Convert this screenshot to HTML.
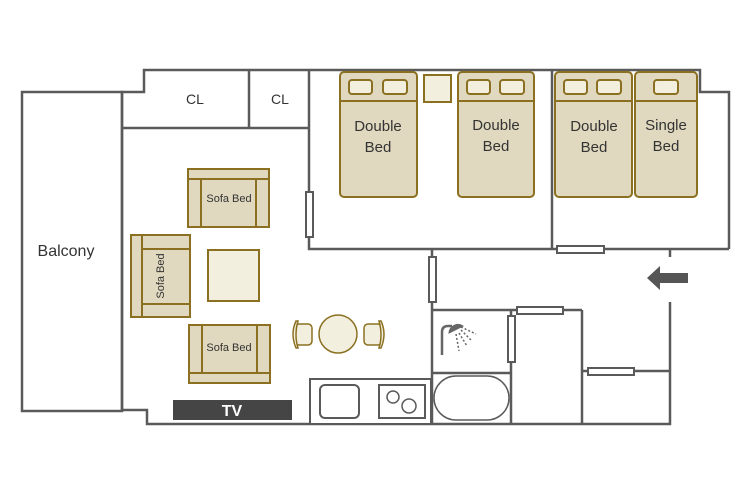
<!DOCTYPE html>
<html><head><meta charset="utf-8"><style>
html,body{margin:0;padding:0;background:#fff;}
svg{display:block;}
text{font-family:"Liberation Sans","DejaVu Sans",sans-serif;fill:#333;}
</style></head><body>
<svg width="750" height="500" viewBox="0 0 750 500" xmlns="http://www.w3.org/2000/svg">
<rect width="750" height="500" fill="#fff"/>
<g fill="none" stroke="#5a5a5a" stroke-width="2.5">
<!-- balcony -->
<rect x="22" y="92" width="100" height="319"/>
<!-- outer walls -->
<polyline points="122,411 122,92 144,92 144,70 700,70 700,92 729,92 729,249"/>
<polyline points="122,410 147,410 147,424 670,424 670,302"/>
<line x1="670" y1="249" x2="670" y2="257"/>
<!-- closets -->
<line x1="122" y1="128" x2="309" y2="128"/>
<line x1="249" y1="70" x2="249" y2="128"/>
<!-- bedrooms -->
<polyline points="309,70 309,249 729,249"/>
<line x1="552" y1="70" x2="552" y2="249"/>
<!-- bathroom etc -->
<line x1="432" y1="249" x2="432" y2="424"/>
<line x1="432" y1="310" x2="582" y2="310"/>
<line x1="511" y1="310" x2="511" y2="424"/>
<line x1="432" y1="373" x2="511" y2="373"/>
<line x1="582" y1="310" x2="582" y2="424"/>
<line x1="582" y1="371" x2="670" y2="371"/>
</g>
<!-- doors -->
<g fill="#fff" stroke="#5a5a5a" stroke-width="2">
<rect x="306" y="192" width="7" height="45"/>
<rect x="557" y="246" width="47" height="7"/>
<rect x="429" y="257" width="7" height="45"/>
<rect x="517" y="307" width="46" height="7"/>
<rect x="508" y="316" width="7" height="46"/>
<rect x="588" y="368" width="46" height="7"/>
</g>
<!-- kitchen -->
<g fill="#fff" stroke="#5a5a5a" stroke-width="2">
<rect x="310" y="379" width="121" height="45"/>
<rect x="320" y="385" width="39" height="33" rx="5"/>
<rect x="379" y="385" width="46" height="33"/>
<circle cx="393" cy="397" r="6" stroke-width="1.5"/>
<circle cx="409" cy="406" r="7" stroke-width="1.5"/>
<rect x="434" y="376" width="75" height="44" rx="22" stroke-width="1.5"/>
</g>
<!-- shower -->
<g stroke="#666" fill="none">
<path d="M442,355 V332 q0,-6 6,-6 h4" stroke-width="2.5"/>
<path d="M449,333 a9,9 0 0 1 14,-7 z" fill="#666"/>
<g stroke-width="1.5" stroke-dasharray="2,2">
<line x1="461" y1="327" x2="476" y2="334"/>
<line x1="461" y1="330" x2="472" y2="341"/>
<line x1="459" y1="333" x2="467" y2="346"/>
<line x1="456" y1="334" x2="459" y2="351"/>
</g>
</g>
<!-- arrow -->
<polygon points="647,278 660,266 660,273 688,273 688,283 660,283 660,290" fill="#555"/>
<!-- TV -->
<rect x="173" y="400" width="119" height="20" fill="#454545"/>
<text x="232" y="416" font-size="16" font-weight="bold" text-anchor="middle" style="fill:#fff">TV</text>
<!-- furniture -->
<g stroke="#8a7020" stroke-width="2" fill="#e0d9bf">
<!-- beds -->
<rect x="340" y="72" width="77" height="125" rx="4"/>
<line x1="340" y1="101" x2="417" y2="101"/>
<rect x="458" y="72" width="76" height="125" rx="4"/>
<line x1="458" y1="101" x2="534" y2="101"/>
<rect x="555" y="72" width="77" height="125" rx="4"/>
<line x1="555" y1="101" x2="632" y2="101"/>
<rect x="635" y="72" width="62" height="125" rx="4"/>
<line x1="635" y1="101" x2="697" y2="101"/>
<g fill="#f3efdf">
<rect x="349" y="80" width="23" height="14" rx="3"/>
<rect x="383" y="80" width="24" height="14" rx="3"/>
<rect x="467" y="80" width="23" height="14" rx="3"/>
<rect x="500" y="80" width="24" height="14" rx="3"/>
<rect x="564" y="80" width="23" height="14" rx="3"/>
<rect x="597" y="80" width="24" height="14" rx="3"/>
<rect x="654" y="80" width="24" height="14" rx="3"/>
<rect x="424" y="75" width="27" height="27"/>
<rect x="208" y="250" width="51" height="51"/>
</g>
<!-- top sofa -->
<rect x="188" y="169" width="81" height="58"/>
<line x1="188" y1="179" x2="269" y2="179"/>
<line x1="201" y1="179" x2="201" y2="227"/>
<line x1="256" y1="179" x2="256" y2="227"/>
<!-- left sofa -->
<rect x="131" y="235" width="59" height="82"/>
<line x1="142" y1="235" x2="142" y2="317"/>
<line x1="142" y1="249" x2="190" y2="249"/>
<line x1="142" y1="304" x2="190" y2="304"/>
<!-- bottom sofa -->
<rect x="189" y="325" width="81" height="58"/>
<line x1="189" y1="373" x2="270" y2="373"/>
<line x1="202" y1="325" x2="202" y2="373"/>
<line x1="257" y1="325" x2="257" y2="373"/>
</g>
<!-- dining -->
<g stroke="#8a7020" stroke-width="1.5" fill="#f3efdf">
<circle cx="338" cy="334" r="19"/>
<rect x="295" y="324" width="17" height="21" rx="4"/>
<path d="M296,321 q-6,13 0,27 l2,0 q-4,-13 0,-27z"/>
<rect x="364" y="324" width="18" height="21" rx="4"/>
<path d="M381,321 q6,13 0,27 l-2,0 q4,-13 0,-27z"/>
</g>
<!-- labels -->
<g font-size="15" text-anchor="middle">
<text x="378" y="131">Double</text><text x="378" y="152">Bed</text>
<text x="496" y="130">Double</text><text x="496" y="151">Bed</text>
<text x="594" y="131">Double</text><text x="594" y="152">Bed</text>
<text x="666" y="130">Single</text><text x="666" y="151">Bed</text>
<text x="195" y="104" font-size="14">CL</text>
<text x="280" y="104" font-size="14">CL</text>
<text x="66" y="256" font-size="16">Balcony</text>
</g>
<g font-size="11" text-anchor="middle">
<text x="229" y="202">Sofa Bed</text>
<text x="229" y="351">Sofa Bed</text>
<text transform="translate(164,276) rotate(-90)">Sofa Bed</text>
</g>
</svg>
</body></html>
